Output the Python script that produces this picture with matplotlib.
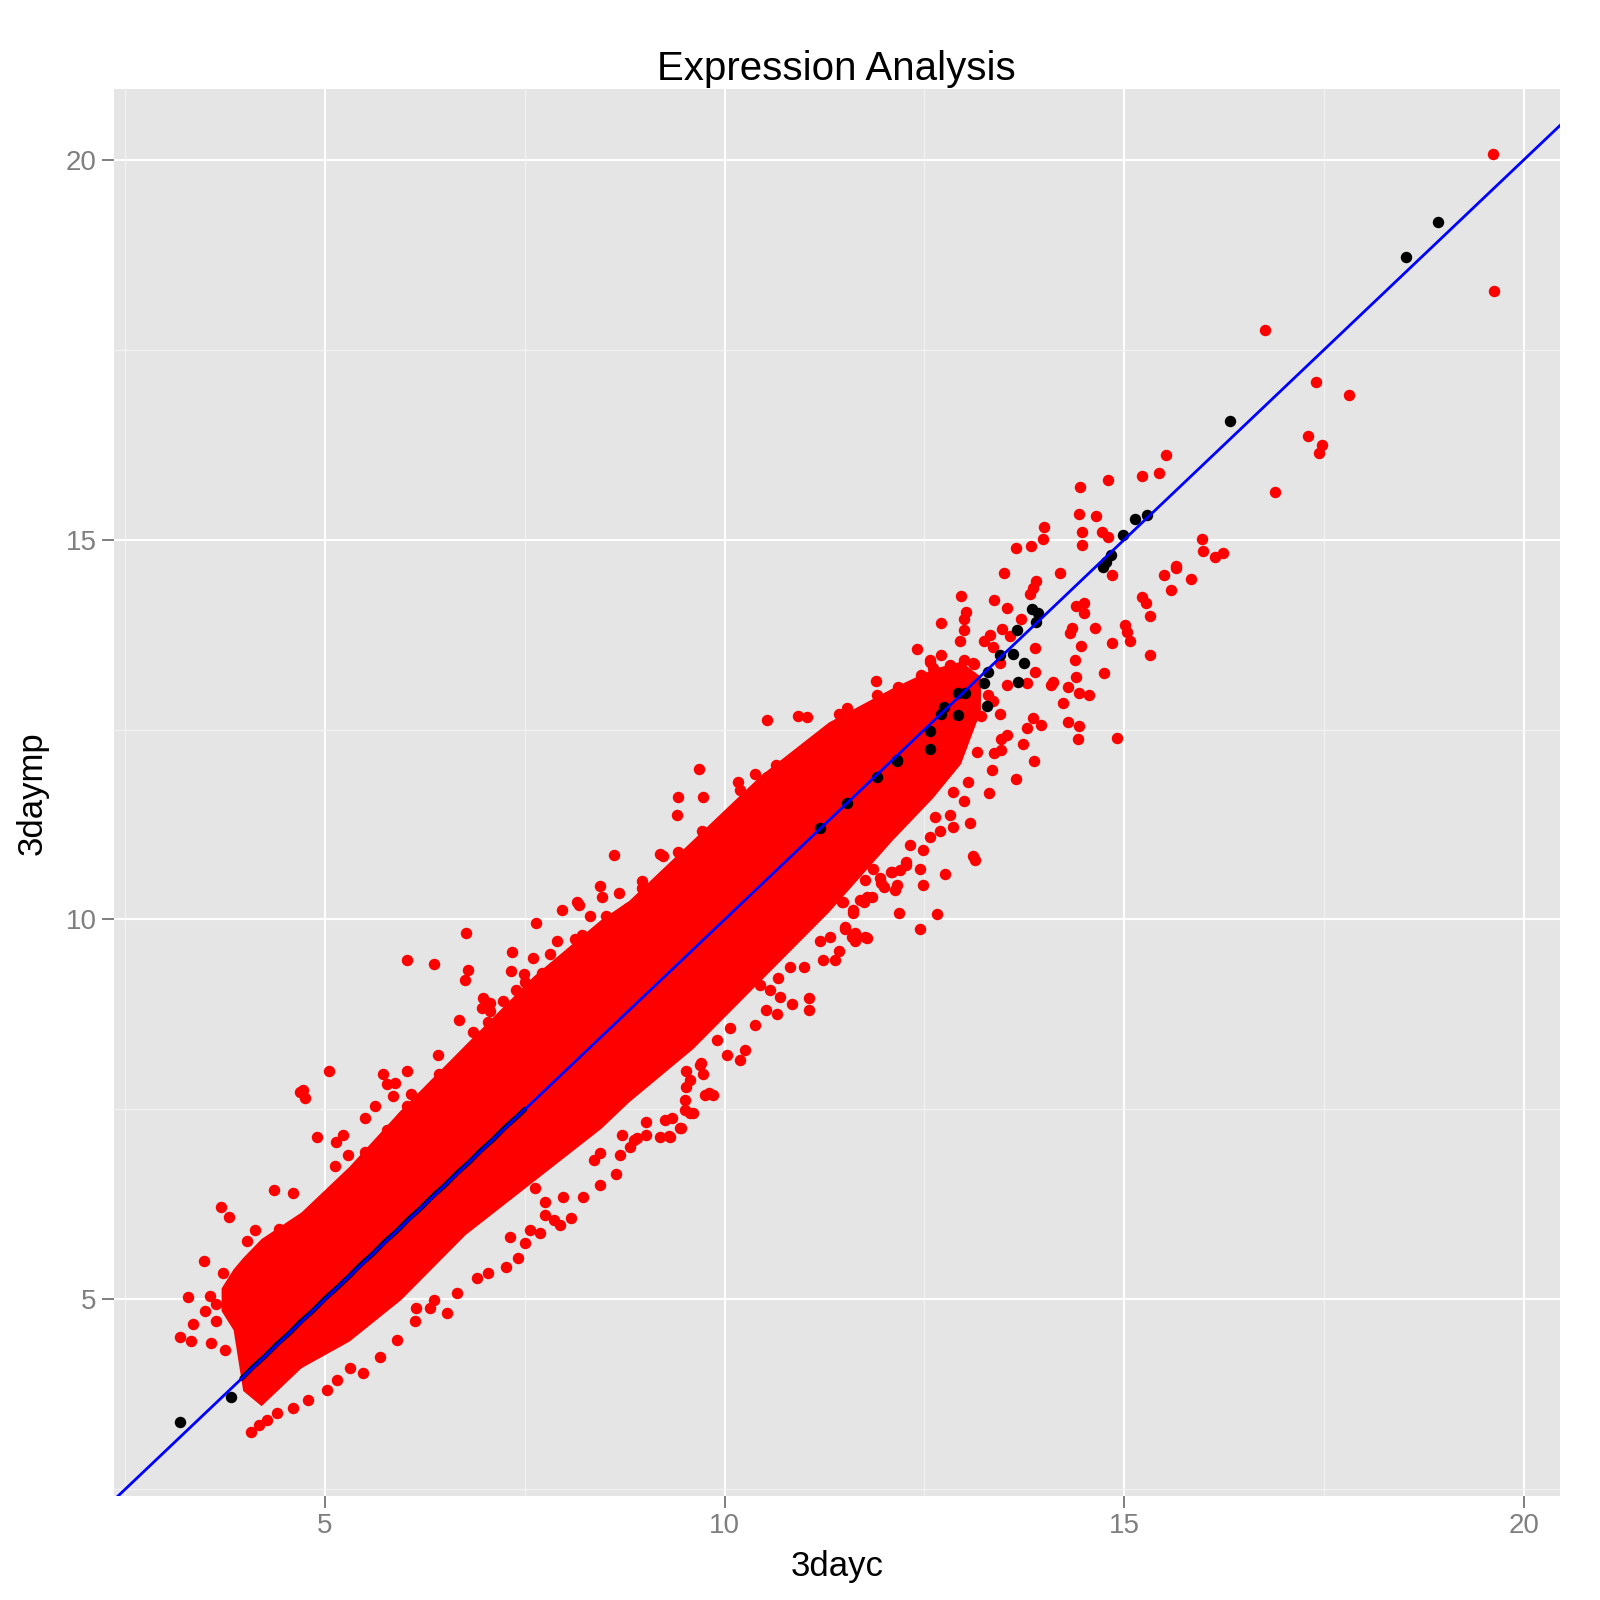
import matplotlib
matplotlib.use("Agg")
import matplotlib.pyplot as plt

plt.rcParams['font.family'] = ['Liberation Sans', 'DejaVu Sans']

# dense core of the red cloud (too many overlapping points to read one by one)
band_x = [3.7, 3.85, 3.97, 4.2, 4.7, 5.3, 5.95, 6.75, 7.6, 8.45, 8.8, 9.6, 10.45,
          11.3, 12.1, 12.6, 12.95, 13.2]
band_lo = [4.85, 4.6, 3.8, 3.6, 4.1, 4.45, 5.0, 5.85, 6.55, 7.25, 7.6, 8.3, 9.2,
           10.1, 11.05, 11.6, 12.05, 12.75]
band_hi = [5.15, 5.4, 5.55, 5.8, 6.15, 6.75, 7.5, 8.35, 9.25, 10.0, 10.25, 11.05, 11.9,
           12.6, 13.05, 13.3, 13.4, 13.2]

# red points outside the core
red_x = [19.61, 19.62, 16.76, 17.40, 17.81, 17.30, 17.47, 17.44, 16.89, 15.52, 15.43, 15.22,
         14.80, 14.44, 14.43, 14.64, 14.47, 14.72, 14.79, 14.47, 15.97, 15.99, 16.14, 16.23,
         15.65,
         13.99, 13.98, 13.83, 13.64, 13.49, 14.20, 14.85, 13.90, 13.86, 13.82, 12.96, 13.37,
         13.53, 13.02, 13.00, 12.71, 12.99, 13.71, 13.47, 13.57, 12.94, 13.32, 13.24, 13.36,
         13.88, 12.41, 12.71, 12.57, 12.61, 12.46, 13.12, 13.45, 11.89, 13.88, 13.78, 13.53,
         13.13, 13.30, 13.36, 13.02, 13.21, 13.44, 13.86, 13.96, 13.78, 13.53, 13.46, 13.73,
         13.16, 13.46, 13.37, 13.87, 13.35, 13.05, 13.65, 13.31, 13.00, 14.08, 14.11, 14.29,
         14.23, 14.39, 14.38, 14.43, 14.56, 14.74, 14.46, 14.34, 14.32, 14.63, 14.40, 14.49,
         14.49, 14.85, 15.01, 15.03, 15.07, 15.32, 15.32, 15.22, 15.27, 15.50, 15.65, 15.59,
         15.84, 14.29, 14.43, 14.42, 14.91,
         9.68, 10.17, 10.19, 9.41, 9.73, 9.40, 10.25, 9.72, 8.61, 9.19, 9.23, 9.38, 8.96,
         8.97, 8.44, 8.46, 8.68, 9.21, 8.15, 8.18, 7.96, 8.31, 8.51, 8.79, 7.64, 6.77, 8.13,
         8.22, 8.65, 7.90, 7.82, 7.34, 7.60, 8.25, 8.32, 8.11, 6.02, 6.36, 6.79, 6.75, 7.33,
         7.49, 7.50, 7.72, 8.02, 7.39, 7.48, 7.23, 6.98, 7.06, 6.96, 7.06, 6.68, 7.04, 6.85,
         6.41, 6.81, 6.42, 6.02, 5.05, 5.73, 5.88, 5.77, 5.85, 6.08, 5.63, 6.03, 5.50, 5.96,
         6.17, 4.73, 4.75, 4.90, 5.14, 5.23, 5.78, 6.02, 6.61, 6.68, 6.94,
         10.03, 10.25, 10.19, 9.75, 9.86, 9.61, 9.44, 9.31, 9.52, 9.69, 9.73, 9.50, 9.02,
         8.86, 8.71, 9.19, 9.90,
         12.76, 12.44, 12.48, 13.13, 12.66, 12.18, 12.44, 12.08, 12.15, 12.13, 11.94, 11.96,
         11.86, 11.75, 11.57, 11.53, 11.78, 11.69, 11.61, 11.48, 12.27, 11.51, 11.63, 11.78,
         11.63, 11.43, 11.38, 11.23, 11.32, 11.19, 11.05, 11.06, 10.84, 10.65, 10.52, 10.69,
         10.57, 10.44, 10.67, 10.99, 10.82, 10.38, 10.07, 9.80, 9.71, 9.57, 9.52, 9.57, 9.50,
         9.45, 9.34, 9.25, 9.30, 8.90, 8.81, 8.69, 8.64, 8.44, 8.23, 8.08, 7.94, 8.44, 8.36,
         9.02,
         10.53, 10.92, 11.03, 12.57, 12.82, 12.99, 13.11, 12.17, 12.24, 11.90, 12.00, 11.53,
         11.43, 11.34, 11.11, 10.96, 10.64, 10.38, 10.53, 13.07, 13.11, 12.27, 12.32, 12.48,
         12.86, 12.82, 12.86, 12.69, 12.57, 12.63, 12.09, 11.99, 11.84, 11.74, 11.61, 11.59,
         11.76, 11.51, 11.47, 12.19, 11.82, 11.74, 11.45, 11.28, 13.02, 12.76, 12.69, 9.42,
         4.08, 4.69, 4.36, 4.60, 3.70, 3.80, 4.42, 4.13, 4.02, 4.85, 4.82, 3.48, 3.72, 3.29,
         3.56, 3.79, 3.50, 3.64, 3.78, 3.35, 3.19, 3.32, 3.57, 3.63, 3.75, 4.29, 4.39, 4.15,
         4.04, 4.56, 4.66, 6.06, 7.04, 5.13, 5.22, 5.29, 5.50, 5.63, 5.90, 5.67, 7.26, 7.42,
         7.50, 7.31, 7.04, 6.90, 6.65, 6.53, 6.31, 6.14, 6.36, 6.13, 5.90, 5.69, 5.48, 5.31,
         5.02, 5.15, 4.79, 4.60, 4.40, 4.27, 4.17, 7.63, 7.98, 7.75, 7.75, 7.86, 7.56, 7.69]
red_y = [20.08, 18.27, 17.76, 17.07, 16.90, 16.36, 16.24, 16.14, 15.63, 16.11, 15.87, 15.84,
         15.78, 15.69, 15.34, 15.31, 15.10, 15.10, 15.03, 14.93, 15.01, 14.85, 14.77, 14.83,
         14.65,
         15.16, 15.01, 14.91, 14.89, 14.56, 14.56, 14.53, 14.45, 14.36, 14.29, 14.26, 14.20,
         14.10, 14.05, 13.96, 13.90, 13.81, 13.96, 13.82, 13.73, 13.66, 13.74, 13.66, 13.59,
         13.57, 13.56, 13.48, 13.42, 13.31, 13.22, 13.36, 13.37, 13.14, 13.26, 13.11, 13.08,
         12.98, 12.95, 12.87, 12.78, 12.68, 12.71, 12.65, 12.56, 12.52, 12.43, 12.38, 12.31,
         12.20, 12.23, 12.19, 12.09, 11.97, 11.81, 11.85, 11.67, 11.56, 13.08, 13.13, 13.06,
         12.85, 13.19, 13.41, 12.98, 12.95, 13.25, 13.60, 13.83, 13.77, 13.84, 14.12, 14.16,
         14.04, 13.64, 13.88, 13.79, 13.66, 13.99, 13.48, 14.25, 14.17, 14.53, 14.63, 14.34,
         14.48, 12.60, 12.55, 12.38, 12.39,
         11.98, 11.81, 11.70, 11.61, 11.61, 11.37, 11.33, 11.16, 10.85, 10.86, 10.84, 10.72,
         10.50, 10.41, 10.44, 10.30, 10.35, 10.37, 10.23, 10.19, 10.13, 10.05, 10.04, 10.15,
         9.95, 9.82, 9.74, 9.80, 9.99, 9.71, 9.55, 9.57, 9.49, 9.56, 9.51, 9.42, 9.47, 9.42,
         9.33, 9.20, 9.32, 9.28, 9.18, 9.30, 9.26, 9.07, 9.01, 8.92, 8.96, 8.90, 8.83, 8.79,
         8.67, 8.65, 8.52, 8.22, 8.27, 7.97, 8.00, 8.01, 7.96, 7.85, 7.84, 7.68, 7.70, 7.54,
         7.54, 7.39, 7.40, 7.45, 7.76, 7.65, 7.14, 7.07, 7.16, 7.23, 7.27, 8.08, 8.02, 8.15,
         8.22, 8.28, 8.15, 7.69, 7.69, 7.45, 7.25, 7.14, 8.01, 8.09, 7.97, 7.62, 7.16, 7.10,
         7.16, 7.14, 8.41,
         10.60, 10.66, 10.46, 10.78, 10.07, 10.08, 9.87, 10.63, 10.45, 10.39, 10.54, 10.48,
         10.67, 10.52, 10.72, 10.63, 10.30, 10.26, 10.12, 10.23, 10.72, 9.87, 9.82, 9.76,
         9.71, 9.58, 9.47, 9.47, 9.77, 9.71, 8.96, 8.81, 8.89, 8.76, 8.81, 8.98, 9.07, 9.14,
         9.23, 9.38, 9.38, 8.61, 8.57, 7.71, 8.11, 7.89, 7.80, 7.45, 7.49, 7.25, 7.38, 7.36,
         7.15, 7.12, 7.01, 6.90, 6.65, 6.50, 6.35, 6.07, 5.98, 6.92, 6.83, 7.34,
         12.63, 12.68, 12.66, 13.39, 13.35, 13.42, 13.37, 13.06, 12.93, 12.95, 12.87, 12.78,
         12.71, 12.41, 12.31, 12.13, 12.03, 11.91, 11.88, 11.27, 10.83, 10.76, 10.98, 10.91,
         11.68, 11.38, 11.22, 11.16, 11.09, 11.35, 10.63, 10.43, 10.30, 10.23, 10.08, 9.77,
         9.77, 9.90, 10.23, 10.65, 11.64, 11.62, 11.40, 11.22, 13.00, 13.09, 13.22, 10.89,
         3.25, 7.73, 6.44, 6.40, 6.22, 6.08, 5.93, 5.91, 5.77, 6.08, 5.93, 5.50, 5.34, 5.03,
         5.04, 5.10, 4.85, 4.94, 4.90, 4.68, 4.50, 4.45, 4.42, 4.71, 4.33, 5.66, 5.56, 5.50,
         5.30, 5.78, 5.71, 7.25, 8.37, 6.75, 6.40, 6.90, 6.94, 7.01, 7.14, 6.89, 5.42, 5.55,
         5.74, 5.82, 5.34, 5.28, 5.08, 4.82, 4.88, 4.88, 4.99, 4.71, 4.46, 4.24, 4.03, 4.09,
         3.81, 3.94, 3.67, 3.57, 3.50, 3.41, 3.35, 6.46, 6.35, 6.28, 6.11, 6.04, 5.91, 5.87]

# black points (genes near the diagonal)
black_x = [3.18, 3.83, 18.93, 18.52, 16.32, 15.29, 15.14, 14.98, 14.83, 14.77, 14.73, 13.92,
           13.85, 13.90, 13.66, 13.61, 13.45, 13.74, 13.30, 13.25, 13.67, 13.28, 12.92,
           11.19, 11.53, 11.90, 12.15, 12.57, 12.74, 12.92, 12.71, 13.01, 12.57, 12.15]
black_y = [3.39, 3.72, 19.18, 18.72, 16.56, 15.33, 15.27, 15.06, 14.80, 14.70, 14.64, 14.03,
           14.08, 13.91, 13.81, 13.50, 13.48, 13.37, 13.26, 13.11, 13.13, 12.81, 12.69,
           11.20, 11.53, 11.88, 12.10, 12.48, 12.80, 12.98, 12.71, 12.98, 12.25, 12.08]

# black points packed on the diagonal, only a thin strip shows next to the blue line
diag_x = [3.96, 4.10, 4.25, 4.40, 4.55, 4.70, 4.85, 5.00, 5.15, 5.30, 5.45, 5.60, 5.75,
          5.90, 6.05, 6.20, 6.35, 6.50, 6.65, 6.80, 6.95, 7.10, 7.25, 7.40, 7.50]
diag_y = [3.96, 4.11, 4.25, 4.41, 4.55, 4.71, 4.85, 5.01, 5.15, 5.30, 5.46, 5.60, 5.76,
          5.90, 6.06, 6.20, 6.36, 6.50, 6.66, 6.80, 6.96, 7.10, 7.26, 7.40, 7.50]

fig = plt.figure(figsize=(16, 16), dpi=100)
ax = fig.add_axes([114 / 1600, 1 - 1496 / 1600, 1446 / 1600, 1406.7 / 1600])
ax.set_facecolor('#E5E5E5')
for s in ax.spines.values():
    s.set_visible(False)

# points
ax.fill_between(band_x, band_lo, band_hi, color='#FF0000', lw=0, zorder=2)
ax.scatter(red_x, red_y, s=68, color='#FF0000', linewidths=0, zorder=3)
ax.plot(diag_x, diag_y, color='black', lw=3.6, solid_capstyle='round', zorder=4)
ax.scatter(black_x, black_y, s=68, color='black', linewidths=0, zorder=4)
ax.axline((0, 0), slope=1, color='#0000FF', lw=2.0, zorder=5)

ax.set_xlim(2.36, 20.451)
ax.set_ylim(2.411, 20.927)

# grid like ggplot2
ax.set_xticks([5, 10, 15, 20])
ax.set_yticks([5, 10, 15, 20])
ax.set_xticks([2.5, 7.5, 12.5, 17.5], minor=True)
ax.set_yticks([2.5, 7.5, 12.5, 17.5], minor=True)
ax.grid(which='major', color='white', lw=1.5, zorder=0)
ax.grid(which='minor', color='#F2F2F2', lw=0.9, zorder=0)
ax.set_axisbelow(True)
ax.tick_params(which='major', length=8.5, width=1.4, color='#7F7F7F',
               labelcolor='#7F7F7F', labelsize=20, pad=4)
ax.tick_params(which='minor', length=0)

ax.set_xlabel('3dayc', fontsize=25, labelpad=8)
ax.set_ylabel('3daymp', fontsize=25, labelpad=12)
fig.text(836.7 / 1600, 1 - 80 / 1600, 'Expression Analysis', fontsize=29,
         ha='center', va='baseline')

fig.savefig('out.png', dpi=100)
